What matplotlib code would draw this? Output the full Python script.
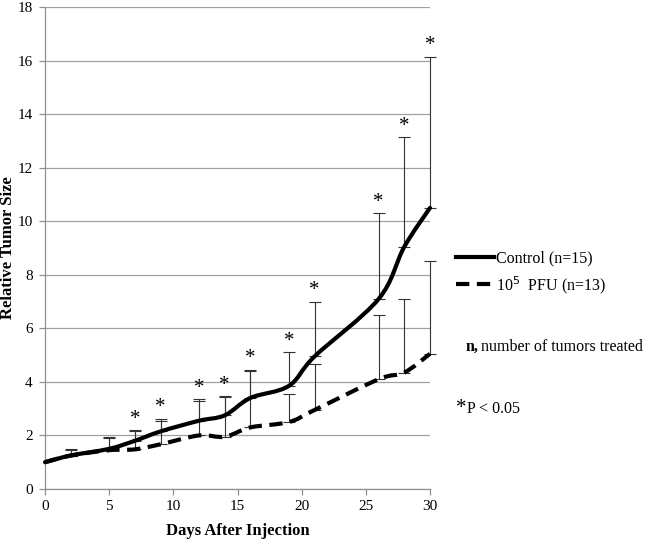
import numpy as np
import matplotlib.pyplot as plt
from matplotlib.path import Path
from matplotlib.patches import PathPatch
from matplotlib.lines import Line2D

plt.rcParams['font.family'] = ['Liberation Serif', 'DejaVu Serif']

# Data
days = [0, 2, 5, 7, 9, 12, 14, 16, 19, 21, 26, 28, 30]
control = [1.0, 1.25, 1.5, 1.8, 2.15, 2.55, 2.75, 3.4, 3.85, 4.95, 7.1, 9.05, 10.5]
control_top = [1.0, 1.5, 1.95, 2.2, 2.62, 3.35, 3.47, 4.45, 5.1, 7.0, 10.3, 13.15, 16.15]
treated = [1.0, 1.25, 1.45, 1.48, 1.67, 2.0, 1.95, 2.3, 2.5, 2.95, 4.1, 4.35, 5.05]
treated_top = [1.0, 1.45, 1.9, 2.15, 2.55, 3.3, 3.45, 4.4, 3.55, 4.65, 6.5, 7.1, 8.5]
signif = [False, False, False, True, True, True, True, True, True, True, True, True, True]


def smooth_path(x, y, t=1.0 / 6):
    # Excel-like smoothed line: Catmull-Rom segments as cubic Bezier curves
    x = np.asarray(x, float)
    y = np.asarray(y, float)
    verts = [(x[0], y[0])]
    codes = [Path.MOVETO]
    n = len(x)
    for i in range(n - 1):
        p0 = (x[max(i - 1, 0)], y[max(i - 1, 0)])
        p1 = (x[i], y[i])
        p2 = (x[i + 1], y[i + 1])
        p3 = (x[min(i + 2, n - 1)], y[min(i + 2, n - 1)])
        c1 = (p1[0] + (p2[0] - p0[0]) * t, p1[1] + (p2[1] - p0[1]) * t)
        c2 = (p2[0] - (p3[0] - p1[0]) * t, p2[1] - (p3[1] - p1[1]) * t)
        verts += [c1, c2, p2]
        codes += [Path.CURVE4] * 3
    return Path(verts, codes)


fig = plt.figure(figsize=(6.47, 5.39), dpi=100)
ax = fig.add_axes([0.0696, 0.0928, 0.595, 0.894])

ax.set_xlim(0, 30)
ax.set_ylim(0, 18)
ax.set_yticks(range(0, 19, 2))
ax.set_xticks(range(0, 31, 5))
ax.yaxis.grid(True, color='#a0a0a0', linewidth=0.9)
ax.set_axisbelow(True)
for s in ['top', 'right']:
    ax.spines[s].set_visible(False)
for s in ['left', 'bottom']:
    ax.spines[s].set_color('#909090')
    ax.spines[s].set_linewidth(0.9)
ax.tick_params(axis='both', colors='#909090', labelcolor='black', labelsize=11, length=4, width=0.9)
ax.tick_params(axis='x', pad=4)
ax.tick_params(axis='y', pad=5)

# error bars (plus direction only)
for d, v, top in zip(days, treated, treated_top):
    if top > v:
        eb = ax.errorbar(d, v, yerr=[[0], [top - v]], fmt='none', ecolor='#333333',
                         elinewidth=0.8, capsize=4, capthick=0.8, zorder=2)
        for a in eb.get_children():
            a.set_clip_on(False)
for d, v, top in zip(days, control, control_top):
    if top > v:
        eb = ax.errorbar(d, v, yerr=[[0], [top - v]], fmt='none', ecolor='#333333',
                         elinewidth=0.8, capsize=4, capthick=0.8, zorder=2)
        for a in eb.get_children():
            a.set_clip_on(False)

ax.add_patch(PathPatch(smooth_path(days, control), fill=False, edgecolor='black',
                       linewidth=3.0, capstyle='round', zorder=4, clip_on=False))
ax.add_patch(PathPatch(smooth_path(days, treated), fill=False, edgecolor='black',
                       linewidth=3.0, linestyle=(0, (3.2, 1.8)), zorder=3, clip_on=False))

for d, top, s in zip(days, control_top, signif):
    if s:
        ax.annotate('*', (d, top), xytext=(0, 1), textcoords='offset points',
                    ha='center', va='bottom', fontsize=15, annotation_clip=False)

ax.set_xlabel('Days After Injection', fontsize=12, fontweight='bold')
ax.set_ylabel('Relative Tumor Size', fontsize=12, fontweight='bold')
ax.xaxis.set_label_coords(0.5, -0.071)
ax.yaxis.set_label_coords(-0.076, 0.5)

# legend / annotations on the right
handles = [Line2D([], [], color='black', linewidth=3.0),
           Line2D([], [], color='black', linewidth=3.0, linestyle=(0, (3.2, 1.8)))]
labels = ['Control (n=15)', r'10$^{5}$  PFU (n=13)']
fig.legend(handles, labels, loc='upper left', bbox_to_anchor=(0.695, 0.547),
           frameon=False, fontsize=11.5, handlelength=2.4, handletextpad=0.1,
           labelspacing=0.45, borderaxespad=0)

fig.text(0.72, 0.356, 'n,', fontsize=11.5, fontweight='bold', va='center')
fig.text(0.743, 0.356, 'number of tumors treated', fontsize=11.5, va='center')
fig.text(0.705, 0.242, '*', fontsize=15, va='center')
fig.text(0.722, 0.242, 'P < 0.05', fontsize=11.5, va='center')

fig.savefig('out.png', dpi=100)
